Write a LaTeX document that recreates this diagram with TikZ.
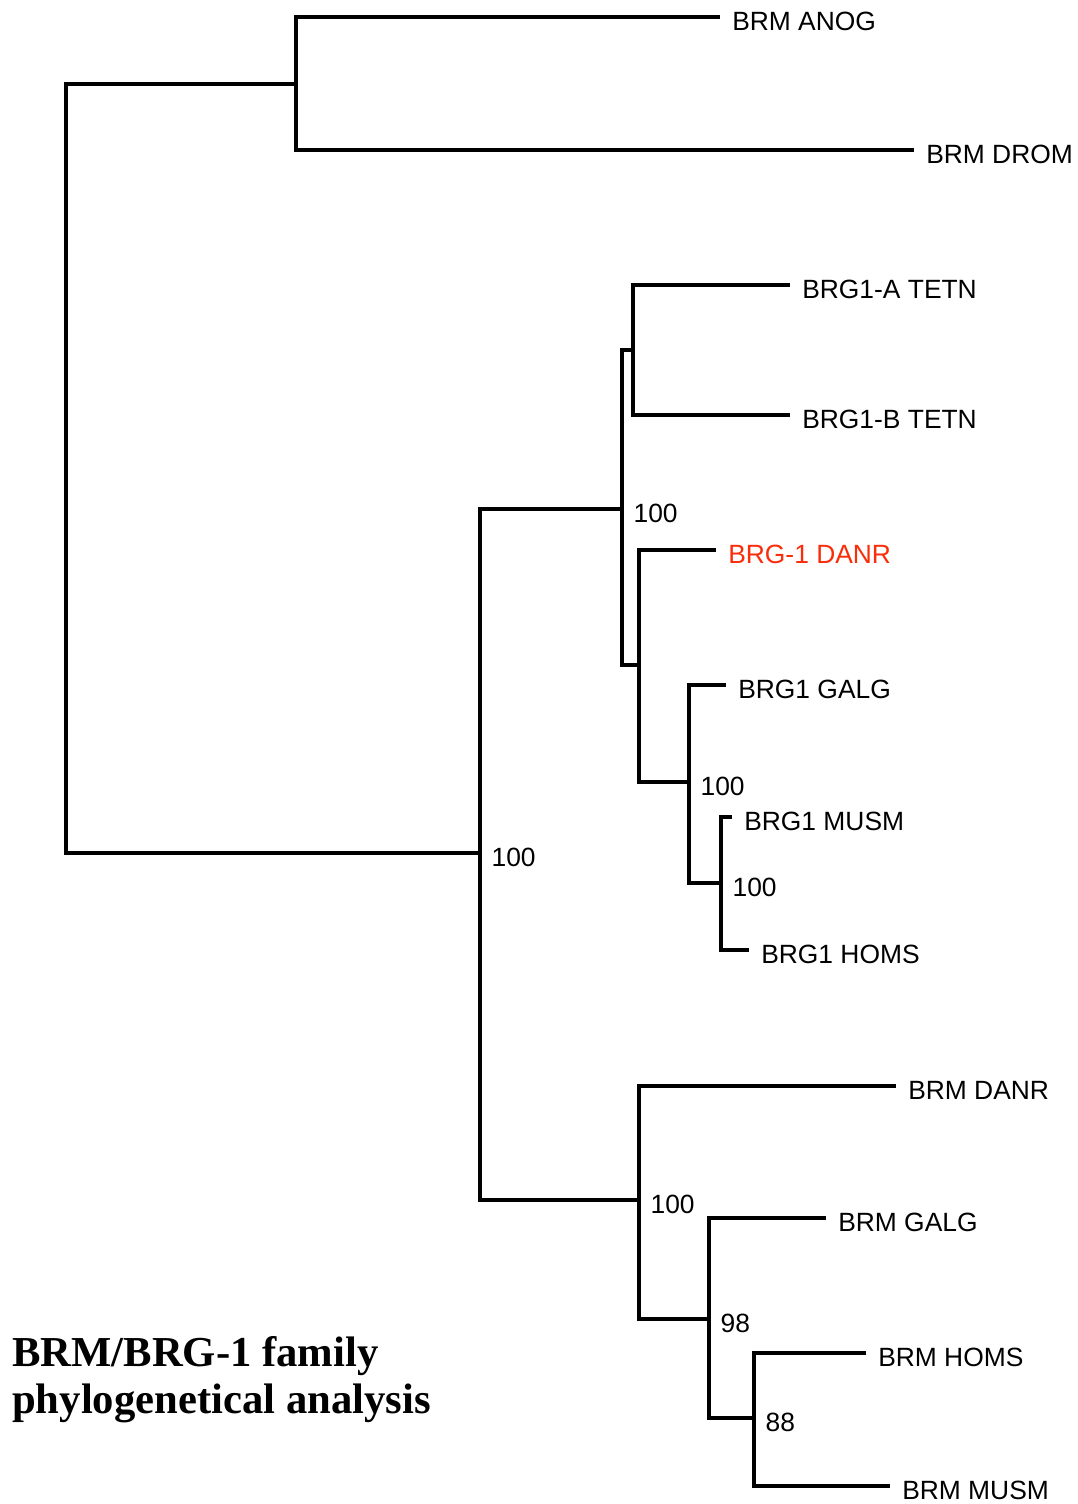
\documentclass[tikz,border=0pt]{standalone}
\usepackage{fontspec}
\setmainfont{Liberation Serif}
\setsansfont{Liberation Sans}
\usetikzlibrary{positioning}
\definecolor{danrred}{RGB}{250,45,10}
\tikzset{
  branch/.style={line width=3pt, line join=miter},
  taxon/.style={font=\sffamily\fontsize{19.8}{22}\selectfont, inner sep=0pt, yshift=-3pt},
  boot/.style={font=\sffamily\fontsize{19.8}{22}\selectfont, inner sep=0pt, anchor=west, xshift=8.5pt, yshift=-3pt},
}

\begin{document}
\begin{tikzpicture}[x=0.75pt, y=-0.75pt, node distance=9pt]
    \useasboundingbox (0,0) rectangle (1078,1504);

    % Internal nodes
    \coordinate (root) at (66,468);
    \coordinate (insect) at (296,84);
    \coordinate (vert) at (480,853);
    \coordinate (brgone) at (622,509);
    \coordinate (tetn) at (633,350);
    \coordinate (vbrg) at (639,665);
    \coordinate (amnbrg) at (689,782);
    \coordinate (mambrg) at (721,883);
    \coordinate (brm) at (639,1200);
    \coordinate (amnbrm) at (709,1319);
    \coordinate (mambrm) at (754,1418);

    % Tips
    \coordinate (anog) at (720,17);
    \coordinate (drom) at (914,150);
    \coordinate (tetna) at (790,285);
    \coordinate (tetnb) at (790,415);
    \coordinate (danrbrg) at (716,550);
    \coordinate (galgbrg) at (726,685);
    \coordinate (musmbrg) at (732,817);
    \coordinate (homsbrg) at (749,950);
    \coordinate (danrbrm) at (896,1086);
    \coordinate (galgbrm) at (826,1218);
    \coordinate (homsbrm) at (866,1353);
    \coordinate (musmbrm) at (890,1486);

    % Branches
    \draw[branch] (insect) -| (root) |- (vert);
    \draw[branch] (anog) -| (insect) |- (drom);
    \draw[branch] (brgone) -| (vert) |- (brm);
    \draw[branch] (tetn) -| (brgone) |- (vbrg);
    \draw[branch] (tetna) -| (tetn) |- (tetnb);
    \draw[branch] (danrbrg) -| (vbrg) |- (amnbrg);
    \draw[branch] (galgbrg) -| (amnbrg) |- (mambrg);
    \draw[branch] (musmbrg) -| (mambrg) |- (homsbrg);
    \draw[branch] (danrbrm) -| (brm) |- (amnbrm);
    \draw[branch] (galgbrm) -| (amnbrm) |- (mambrm);
    \draw[branch] (homsbrm) -| (mambrm) |- (musmbrm);

    % Tip labels
    \node[taxon, right=of anog] (lanog) {BRM ANOG};
    \node[taxon, right=of drom] (ldrom) {BRM DROM};
    \node[taxon, right=of tetna] (ltetna) {BRG1-A TETN};
    \node[taxon, right=of tetnb] (ltetnb) {BRG1-B TETN};
    \node[taxon, right=of danrbrg, text=danrred] (ldanrbrg) {BRG-1 DANR};
    \node[taxon, right=of galgbrg] (lgalgbrg) {BRG1 GALG};
    \node[taxon, right=of musmbrg] (lmusmbrg) {BRG1 MUSM};
    \node[taxon, right=of homsbrg] (lhomsbrg) {BRG1 HOMS};
    \node[taxon, right=of danrbrm] (ldanrbrm) {BRM DANR};
    \node[taxon, right=of galgbrm] (lgalgbrm) {BRM GALG};
    \node[taxon, right=of homsbrm] (lhomsbrm) {BRM HOMS};
    \node[taxon, right=of musmbrm] (lmusmbrm) {BRM MUSM};

    % Bootstrap values
    \node[boot] (bvert) at (vert) {100};
    \node[boot] (bbrgone) at (brgone) {100};
    \node[boot] (bamnbrg) at (amnbrg) {100};
    \node[boot] (bmambrg) at (mambrg) {100};
    \node[boot] (bbrm) at (brm) {100};
    \node[boot] (bamnbrm) at (amnbrm) {98};
    \node[boot] (bmambrm) at (mambrm) {88};

    % Title
    \node[anchor=base west, inner sep=0pt, align=left,
          font=\rmfamily\bfseries\fontsize{32}{35}\selectfont] (title) at (12,1413)
          {BRM/BRG-1 family\\phylogenetical analysis};
\end{tikzpicture}
\end{document}
